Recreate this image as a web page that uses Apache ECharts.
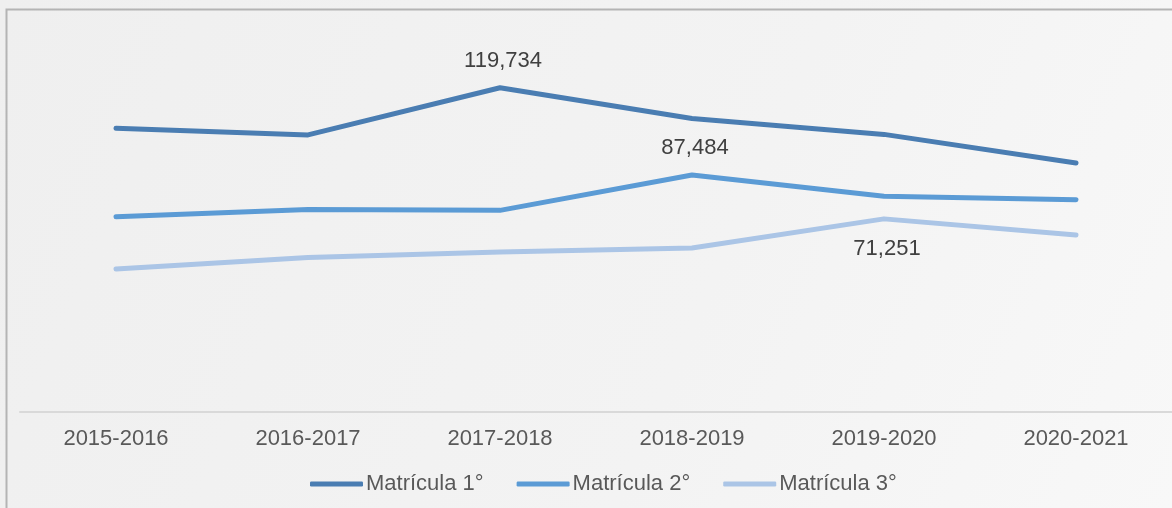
<!DOCTYPE html>
<html>
<head>
<meta charset="utf-8">
<script src="https://cdn.jsdelivr.net/npm/echarts@6/dist/echarts.min.js"></script>
<style>
  html, body { margin: 0; padding: 0; }
  #chart { width: 1172px; height: 508px; }
</style>
</head>
<body>
<div id="chart"></div>
<script>
// datos de matrícula por ciclo escolar
var ciclos = ['2015-2016', '2016-2017', '2017-2018', '2018-2019', '2019-2020', '2020-2021'];
var matricula1 = [104800, 102300, 119734, 108400, 102500, 91900];
var matricula2 = [72000, 74700, 74400, 87484, 79600, 78300];
var matricula3 = [52700, 57000, 59000, 60500, 71251, 65300];
var nombres = ['Matrícula 1°', 'Matrícula 2°', 'Matrícula 3°'];
var colores = ['#4a7db2', '#5b9bd5', '#abc5e6'];

// punto con etiqueta visible: indice y posicion
var etiquetas = [[2, 'top'], [3, 'top'], [4, 'bottom']];

function armarDatos(valores, etiqueta) {
    return valores.map(function (v, i) {
        if (i === etiqueta[0]) {
            return {
                value: v,
                label: {
                    show: true,
                    position: etiqueta[1],
                    distance: 17,
                    offset: [3, etiqueta[1] === 'top' ? 1 : 2],
                    formatter: function (p) { return p.value.toLocaleString('en-US'); }
                }
            };
        }
        return v;
    });
}

var series = [matricula1, matricula2, matricula3].map(function (valores, k) {
    return {
        name: nombres[k],
        type: 'line',
        data: armarDatos(valores, etiquetas[k]),
        symbol: 'circle',
        symbolSize: 0.1,
        showSymbol: true,
        smooth: false,
        lineStyle: { width: 5, color: colores[k], cap: 'round', join: 'round' },
        itemStyle: { color: colores[k] },
        label: { color: '#404040', fontSize: 22, fontFamily: 'Liberation Sans, Arial, sans-serif' }
    };
});

var myChart = echarts.init(document.getElementById('chart'), null, { renderer: 'canvas' });

var option = {
    animation: false,
    backgroundColor: {
        type: 'linear', x: 0, y: 0, x2: 1, y2: 1,
        colorStops: [
            { offset: 0, color: '#efefef' },
            { offset: 0.6, color: '#f3f3f3' },
            { offset: 1, color: '#f8f8f8' }
        ]
    },
    graphic: [{
        type: 'rect',
        shape: { x: 6.5, y: 9.5, width: 1200, height: 600 },
        style: { fill: 'none', stroke: '#b4b4b4', lineWidth: 2 },
        silent: true,
        z: 0
    }],
    grid: { left: 20, right: 0, top: 33, bottom: 96.5 },
    legend: {
        bottom: 8,
        left: 305,
        icon: 'roundRect',
        itemWidth: 53,
        itemHeight: 5,
        itemGap: 33,
        textStyle: { color: '#595959', fontSize: 22, fontFamily: 'Liberation Sans, Arial, sans-serif', padding: [0, 0, 0, -2] },
        data: nombres
    },
    xAxis: {
        type: 'category',
        data: ciclos,
        boundaryGap: true,
        axisLine: { lineStyle: { color: '#d9d9d9', width: 2 } },
        axisTick: { show: false },
        axisLabel: { color: '#595959', fontSize: 22, fontFamily: 'Liberation Sans, Arial, sans-serif', margin: 16 }
    },
    yAxis: {
        type: 'value',
        min: 0,
        max: 140000,
        show: false,
        splitLine: { show: false }
    },
    series: series
};

myChart.setOption(option);
</script>
</body>
</html>
